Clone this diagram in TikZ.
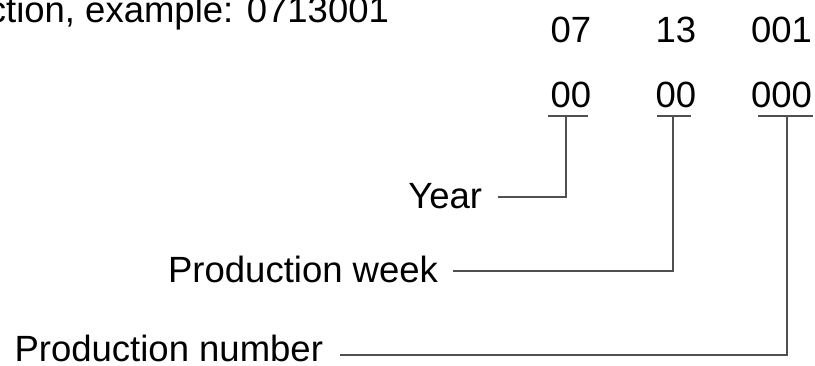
\documentclass[tikz,border=0pt]{standalone}
\usepackage{fontspec}
\setmainfont{Liberation Sans}
\definecolor{linegray}{RGB}{80,80,80}
\begin{document}
\begin{tikzpicture}[x=1pt,y=-1pt,
  txt/.style={inner sep=0pt,outer sep=0pt,font=\fontsize{36.5}{44}\selectfont,text=black},
  conn/.style={draw=linegray,line width=1.8pt},
  uline/.style={draw=linegray,line width=1.8pt}]
\useasboundingbox (0,0) rectangle (815,365);
% top caption
\node[txt,anchor=base east] (cap) at (389,22) {ction, example: 0713001};
% example digits
\node[txt,anchor=base] (e1) at (571,42) {07};
\node[txt,anchor=base] (e2) at (676,42) {13};
\node[txt,anchor=base] (e3) at (781.5,42) {001};
% pattern digits
\node[txt,anchor=base] (p1) at (571,107) {00};
\node[txt,anchor=base] (p2) at (676,107) {00};
\node[txt,anchor=base] (p3) at (781.5,107) {000};
% underlines
\coordinate (u1l) at (548,116); \coordinate (u1r) at (588,116);
\coordinate (u2l) at (657,116); \coordinate (u2r) at (691,116);
\coordinate (u3l) at (758,116); \coordinate (u3r) at (813,116);
\draw[uline] (u1l) -- (u1r);
\draw[uline] (u2l) -- (u2r);
\draw[uline] (u3l) -- (u3r);
% connector tops
\coordinate (t1) at (566,116);
\coordinate (t2) at (673,116);
\coordinate (t3) at (787,116);
% labels
\node[txt,anchor=base east] (year) at (482,208) {Year};
\node[txt,anchor=base east] (week) at (438,282) {Production week};
\node[txt,anchor=base east] (num) at (323,361) {Production number};
% connector starts
\coordinate (s1) at (498,197);
\coordinate (s2) at (453,271);
\coordinate (s3) at (340,355);
\draw[conn] (s1) -| (t1);
\draw[conn] (s2) -| (t2);
\draw[conn] (s3) -| (t3);
\end{tikzpicture}
\end{document}
